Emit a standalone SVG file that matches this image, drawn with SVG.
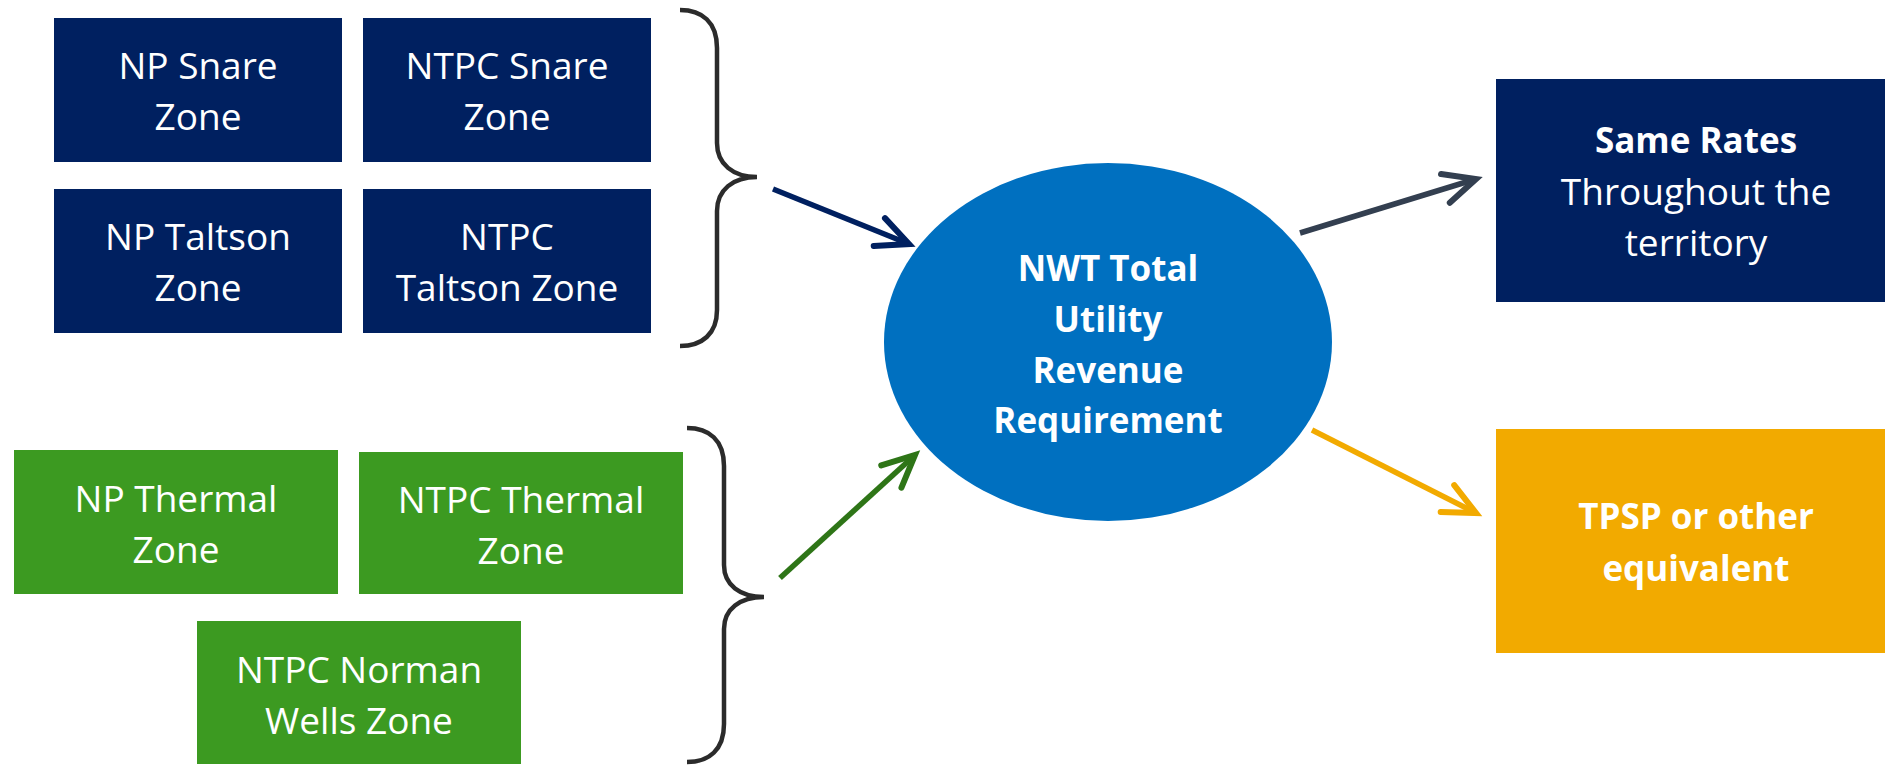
<svg xmlns="http://www.w3.org/2000/svg" width="1885" height="766" viewBox="0 0 1885 766">
<style>
.navy{fill:#002060}
.green{fill:#3C9A21}
.gold{fill:#F2AA00}
.t{font-family:"Open Sans","Noto Sans","Liberation Sans",sans-serif;font-size:37px;fill:#fff;text-anchor:middle}
.b{font-weight:bold;font-size:35px}
.brace{fill:none;stroke:#2B2B2B;stroke-width:4.5}
.ln{fill:none;stroke-width:5.5;stroke-linecap:butt}
</style>
<defs>
<marker id="mNavy" markerUnits="userSpaceOnUse" orient="auto" markerWidth="60" markerHeight="60" refX="0" refY="0" viewBox="-40 -30 60 60" overflow="visible"><path d="M-32,-15 L0,0 L-32,15" fill="none" stroke="#002060" stroke-width="6" stroke-linecap="round"/></marker>
<marker id="mSlate" markerUnits="userSpaceOnUse" orient="auto" markerWidth="60" markerHeight="60" refX="0" refY="0" viewBox="-40 -30 60 60" overflow="visible"><path d="M-32,-15 L0,0 L-32,15" fill="none" stroke="#333F50" stroke-width="6" stroke-linecap="round"/></marker>
<marker id="mGreen" markerUnits="userSpaceOnUse" orient="auto" markerWidth="60" markerHeight="60" refX="0" refY="0" viewBox="-40 -30 60 60" overflow="visible"><path d="M-32,-15 L0,0 L-32,15" fill="none" stroke="#2E7517" stroke-width="6" stroke-linecap="round"/></marker>
<marker id="mGold" markerUnits="userSpaceOnUse" orient="auto" markerWidth="60" markerHeight="60" refX="0" refY="0" viewBox="-40 -30 60 60" overflow="visible"><path d="M-32,-15 L0,0 L-32,15" fill="none" stroke="#F2AA00" stroke-width="6" stroke-linecap="round"/></marker>
</defs>
<rect width="1885" height="766" fill="#fff"/>

<g id="np-snare"><rect class="navy" x="54" y="18" width="288" height="144"/><text class="t" x="198" y="79">NP Snare</text><text class="t" x="198" y="130">Zone</text></g>
<g id="ntpc-snare"><rect class="navy" x="363" y="18" width="288" height="144"/><text class="t" x="507" y="79">NTPC Snare</text><text class="t" x="507" y="130">Zone</text></g>
<g id="np-taltson"><rect class="navy" x="54" y="189" width="288" height="144"/><text class="t" x="198" y="250">NP Taltson</text><text class="t" x="198" y="301">Zone</text></g>
<g id="ntpc-taltson"><rect class="navy" x="363" y="189" width="288" height="144"/><text class="t" x="507" y="250">NTPC</text><text class="t" x="507" y="301">Taltson Zone</text></g>

<g id="np-thermal"><rect class="green" x="14" y="450" width="324" height="144"/><text class="t" x="176" y="512">NP Thermal</text><text class="t" x="176" y="563">Zone</text></g>
<g id="ntpc-thermal"><rect class="green" x="359" y="452" width="324" height="142"/><text class="t" x="521" y="513">NTPC Thermal</text><text class="t" x="521" y="564">Zone</text></g>
<g id="ntpc-norman"><rect class="green" x="197" y="621" width="324" height="143"/><text class="t" x="359" y="683">NTPC Norman</text><text class="t" x="359" y="734">Wells Zone</text></g>

<g id="brace-top"><path class="brace" d="M680,10 C702,10 717,22 717,48 L717,143 C717,164 733,177 757,177 C733,177 717,190 717,211 L717,310 C717,334 702,346 680,346"/></g>
<g id="brace-bottom"><path class="brace" d="M687,428 C709,428 724,440 724,466 L724,565 C724,585 740,597 764,597 C740,597 724,609 724,629 L724,724 C724,750 709,762 687,762"/></g>

<g id="center"><ellipse cx="1108" cy="342" rx="224" ry="179" fill="#0070C0"/>
<text class="t b" x="1108" y="281">NWT Total</text><text class="t b" x="1108" y="332">Utility</text><text class="t b" x="1108" y="383">Revenue</text><text class="t b" x="1108" y="433">Requirement</text></g>

<g id="same-rates"><rect class="navy" x="1496" y="79" width="389" height="223"/><text class="t b" x="1696" y="153">Same Rates</text><text class="t" x="1696" y="205">Throughout the</text><text class="t" x="1696" y="256">territory</text></g>
<g id="tpsp"><rect class="gold" x="1496" y="429" width="389" height="224"/><text class="t b" x="1696" y="529">TPSP or other</text><text class="t b" x="1696" y="581">equivalent</text></g>

<g id="connectors">
<line class="ln" x1="773" y1="189" x2="909" y2="244" stroke="#002060" marker-end="url(#mNavy)"/>
<line class="ln" x1="780" y1="578" x2="915" y2="455" stroke="#2E7517" marker-end="url(#mGreen)"/>
<line class="ln" x1="1300" y1="233" x2="1476" y2="179" stroke="#333F50" marker-end="url(#mSlate)"/>
<line class="ln" x1="1312" y1="430" x2="1476" y2="513" stroke="#F2AA00" marker-end="url(#mGold)"/>
</g>
</svg>
